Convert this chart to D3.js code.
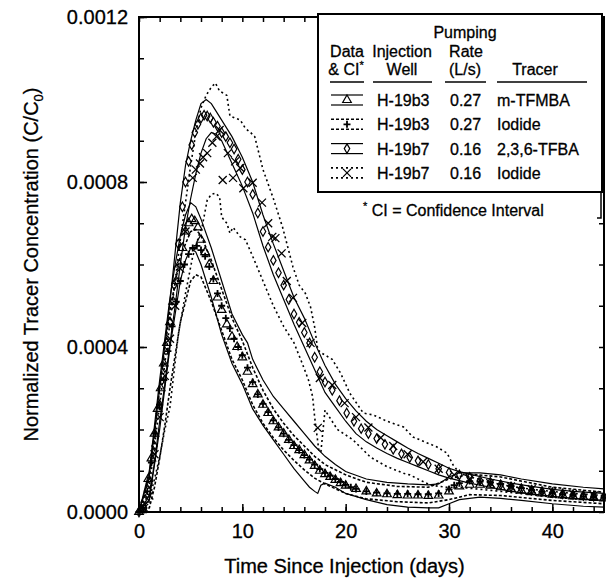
<!DOCTYPE html>
<html><head><meta charset="utf-8">
<script src="https://cdn.jsdelivr.net/npm/d3@7"></script>
<style>body{margin:0;background:#fff}svg{display:block;font-family:"Liberation Sans",Arial,Helvetica,sans-serif}svg text{stroke:#000;stroke-width:0.3px}</style>
</head><body><svg id="c" width="606" height="583"></svg>
<script>
// ---------------- data (day, C/C0) ----------------
const tfmbaData = [[0,0],[0.3,0.05e-4],[0.6,0.3e-4],[0.9,0.8e-4],[1.2,1.3e-4],[1.5,1.9e-4],[1.8,2.5e-4],[2.1,3.0e-4],[2.4,3.6e-4],[2.7,4.1e-4],
 [3.0,4.6e-4],[3.3,5.1e-4],[3.6,5.6e-4],[3.9,6.0e-4],[4.2,6.4e-4],[4.5,6.8e-4],[4.8,7.0e-4],[5.1,7.1e-4],[5.4,7.05e-4],[5.7,6.9e-4],
 [6.0,6.6e-4],[6.4,6.3e-4],[6.8,6.0e-4],[7.2,5.6e-4],[7.6,5.2e-4],[8.0,4.9e-4],[8.5,4.55e-4],[9.0,4.25e-4],[9.5,4.0e-4],[10.0,3.75e-4],
 [10.5,3.4e-4],[11.0,3.1e-4],[11.5,2.85e-4],[12.0,2.6e-4],[12.5,2.4e-4],[13.0,2.2e-4],[13.5,2.05e-4],[14.0,1.9e-4],[14.5,1.75e-4],[15.0,1.6e-4],
 [15.5,1.5e-4],[16.0,1.38e-4],[16.5,1.25e-4],[17.0,1.12e-4],[17.5,1.0e-4],[18.0,0.92e-4],[18.5,0.85e-4],[19.0,0.78e-4],[19.5,0.7e-4],[20.0,0.64e-4],
 [21,0.56e-4],[22,0.5e-4],[23,0.45e-4],[24,0.43e-4],[25,0.41e-4],[26,0.4e-4],[27,0.4e-4],[28,0.39e-4],[29,0.4e-4],[30,0.5e-4],
 [31,0.62e-4],[32,0.66e-4],[33,0.66e-4],[34,0.64e-4],[35,0.6e-4],[36,0.56e-4],[37,0.52e-4],[38,0.48e-4],[39,0.45e-4],[40,0.42e-4],
 [41,0.4e-4],[42,0.38e-4],[43,0.36e-4],[44,0.34e-4],[45,0.33e-4]];
const tfmbaUpper = [[0,0],[1,1.0e-4],[2,3.2e-4],[3,5.2e-4],[3.5,6.0e-4],[4,6.7e-4],[4.5,7.2e-4],[5,7.5e-4],[5.5,7.4e-4],[6,7.1e-4],[7,6.4e-4],[8,5.6e-4],
 [9,4.8e-4],[10,4.3e-4],[10.5,4.1e-4],[11,3.7e-4],[12,3.2e-4],[13,2.8e-4],[14,2.5e-4],[15,2.2e-4],[16,1.9e-4],[17,1.6e-4],[18,1.35e-4],[19,1.15e-4],
 [20,0.98e-4],[22,0.8e-4],[24,0.72e-4],[26,0.68e-4],[28,0.66e-4],[29,0.68e-4],[30,0.85e-4],[31,0.95e-4],[33,0.95e-4],[35,0.9e-4],[37,0.8e-4],[40,0.68e-4],[43,0.6e-4],[45,0.56e-4]];
const tfmbaLower = [[0,0],[1,0.3e-4],[2,2.0e-4],[3,4.0e-4],[4,5.6e-4],[4.5,6.1e-4],[5,6.4e-4],[5.5,6.3e-4],[6,6.0e-4],[7,5.2e-4],[8,4.3e-4],[9,3.6e-4],
 [10,3.1e-4],[11,2.5e-4],[12,2.1e-4],[13,1.75e-4],[14,1.4e-4],[15,1.05e-4],[16,0.75e-4],[16.5,0.6e-4],[17,0.5e-4],[17.3,0.45e-4],[17.6,0.65e-4],[18,0.7e-4],
 [19,0.6e-4],[20,0.45e-4],[22,0.3e-4],[24,0.18e-4],[26,0.12e-4],[28,0.1e-4],[29,0.1e-4],[30,0.2e-4],[31,0.3e-4],[33,0.36e-4],[35,0.33e-4],[37,0.28e-4],[40,0.2e-4],[43,0.14e-4],[45,0.12e-4]];

const iodB3Data = [[0,0],[0.4,0.1e-4],[0.8,0.5e-4],[1.2,1.2e-4],[1.6,1.9e-4],[2.0,2.6e-4],[2.4,3.2e-4],[2.8,3.9e-4],[3.2,4.5e-4],[3.6,5.1e-4],
 [4.0,5.6e-4],[4.4,6.0e-4],[4.8,6.25e-4],[5.2,6.4e-4],[5.6,6.45e-4],[6.0,6.35e-4],[6.4,6.2e-4],[6.8,5.95e-4],[7.2,5.65e-4],[7.6,5.3e-4],
 [8.0,5.0e-4],[8.4,4.7e-4],[8.8,4.45e-4],[9.2,4.2e-4],[9.6,4.0e-4],[10.0,3.8e-4],[10.5,3.5e-4],[11,3.15e-4],[11.5,2.85e-4],[12,2.62e-4],
 [12.5,2.42e-4],[13,2.22e-4],[13.5,2.05e-4],[14,1.9e-4],[14.5,1.75e-4],[15,1.62e-4],[15.5,1.5e-4],[16,1.38e-4],[16.5,1.27e-4],[17,1.15e-4],
 [17.5,1.04e-4],[18,0.95e-4],[18.5,0.88e-4],[19,0.8e-4],[19.5,0.73e-4],[20,0.66e-4],[20.5,0.6e-4],[21,0.56e-4],[22,0.5e-4],[23,0.47e-4],
 [24,0.45e-4],[25,0.44e-4],[26,0.44e-4],[27,0.43e-4],[28,0.43e-4],[29,0.45e-4],[30,0.55e-4],[30.5,0.65e-4],[31,0.7e-4],[32,0.75e-4],
 [33,0.74e-4],[34,0.72e-4],[35,0.68e-4],[36,0.63e-4],[37,0.58e-4],[38,0.53e-4],[39,0.49e-4],[40,0.46e-4],[41,0.43e-4],[42,0.41e-4],
 [43,0.38e-4],[44,0.36e-4],[45,0.35e-4]];
const iodB3Upper = [[0,0],[1,0.8e-4],[2,3.0e-4],[3,4.9e-4],[4,6.2e-4],[5,6.8e-4],[5.5,6.85e-4],[6,6.7e-4],[7,6.1e-4],[8,5.4e-4],[9,4.7e-4],[10,4.15e-4],
 [11,3.5e-4],[12,2.95e-4],[13,2.5e-4],[14,2.15e-4],[15,1.85e-4],[16,1.6e-4],[17,1.35e-4],[18,1.15e-4],[20,0.9e-4],[22,0.72e-4],[25,0.62e-4],[28,0.6e-4],
 [30,0.8e-4],[32,0.92e-4],[35,0.85e-4],[40,0.6e-4],[45,0.48e-4]];
const iodB3Lower = [[0,0],[1,0.1e-4],[1.5,0.6e-4],[2,1.3e-4],[2.5,2.1e-4],[3,3.0e-4],[4,4.6e-4],[5,5.6e-4],[5.5,5.75e-4],[6,5.7e-4],[7,5.1e-4],[8,4.4e-4],
 [9,3.7e-4],[10,3.2e-4],[11,2.6e-4],[12,2.15e-4],[13,1.8e-4],[14,1.5e-4],[15,1.25e-4],[16,1.02e-4],[17,0.82e-4],[18,0.68e-4],[20,0.45e-4],[22,0.32e-4],
 [25,0.25e-4],[28,0.22e-4],[30,0.3e-4],[32,0.42e-4],[35,0.4e-4],[40,0.28e-4],[45,0.2e-4]];

const tfbaData = [[0,0],[0.5,0.1e-4],[1.0,0.7e-4],[1.5,1.6e-4],[2.0,2.6e-4],[2.5,3.5e-4],[3.0,4.6e-4],[3.4,5.5e-4],[3.8,6.5e-4],[4.2,7.4e-4],
 [4.5,8.0e-4],[4.8,8.5e-4],[5.1,8.9e-4],[5.4,9.2e-4],[5.7,9.4e-4],[6.0,9.55e-4],[6.3,9.62e-4],[6.6,9.6e-4],[6.9,9.55e-4],[7.2,9.45e-4],
 [7.6,9.35e-4],[8.0,9.2e-4],[8.4,9.1e-4],[8.8,8.95e-4],[9.2,8.8e-4],[9.6,8.55e-4],[10.0,8.3e-4],[10.5,8.0e-4],[11.0,7.7e-4],[11.5,7.25e-4],
 [12.0,6.8e-4],[12.5,6.42e-4],[13.0,6.1e-4],[13.5,5.8e-4],[14.0,5.5e-4],[14.5,5.15e-4],[15.0,4.8e-4],[15.5,4.6e-4],[16.0,4.35e-4],[16.5,4.1e-4],
 [17.0,3.75e-4],[17.5,3.4e-4],[18.0,3.15e-4],[18.7,2.95e-4],[19.4,2.7e-4],[20.1,2.4e-4],[20.8,2.2e-4],[21.5,2.02e-4],[22.2,1.9e-4],[23.0,1.78e-4],
 [23.8,1.64e-4],[24.6,1.52e-4],[25.4,1.41e-4],[26.2,1.32e-4],[27.0,1.24e-4],[28.0,1.15e-4],[29.0,1.05e-4],[30.0,0.96e-4],[31.0,0.9e-4],[32.0,0.84e-4],
 [33.0,0.76e-4],[34.0,0.72e-4],[35.0,0.66e-4],[36.0,0.61e-4],[37.0,0.57e-4],[38.0,0.53e-4],[39.0,0.5e-4],[40.0,0.47e-4],[41,0.44e-4],[42,0.42e-4],
 [43,0.4e-4],[44,0.38e-4],[45,0.37e-4]];
const tfbaUpper = [[0,0],[1,0.9e-4],[2,3.0e-4],[3,5.1e-4],[3.5,6.3e-4],[4,7.5e-4],[4.5,8.4e-4],[5,9.0e-4],[5.5,9.5e-4],[6,9.9e-4],[6.5,10.0e-4],
 [7,9.9e-4],[7.5,9.7e-4],[8,9.5e-4],[9,9.1e-4],[10,8.6e-4],[11,8.0e-4],[12,7.2e-4],[13,6.5e-4],[14,5.85e-4],[15,5.2e-4],[16,4.7e-4],[17,4.1e-4],
 [18,3.55e-4],[19,3.1e-4],[20,2.75e-4],[21,2.45e-4],[22,2.2e-4],[23,2.0e-4],[24,1.85e-4],[25,1.7e-4],[26,1.55e-4],[27,1.42e-4],[28,1.3e-4],
 [29,1.18e-4],[30,1.06e-4],[31,0.98e-4],[32,0.92e-4],[34,0.8e-4],[36,0.7e-4],[38,0.62e-4],[40,0.55e-4],[42,0.5e-4],[45,0.45e-4]];
const tfbaLower = [[0,0],[1,0.4e-4],[1.5,1.2e-4],[2,2.2e-4],[2.5,3.1e-4],[3,4.1e-4],[3.5,5.0e-4],[4,6.0e-4],[4.5,6.9e-4],[5,7.6e-4],[5.5,8.2e-4],
 [6,8.7e-4],[6.5,9.05e-4],[7,9.2e-4],[7.5,9.15e-4],[8,9.0e-4],[9,8.45e-4],[10,7.9e-4],[11,7.25e-4],[12,6.45e-4],[13,5.75e-4],[14,5.15e-4],
 [15,4.55e-4],[16,4.0e-4],[17,3.45e-4],[18,2.9e-4],[19,2.55e-4],[20,2.2e-4],[21,1.9e-4],[22,1.7e-4],[23,1.55e-4],[24,1.42e-4],[25,1.3e-4],
 [26,1.2e-4],[27,1.1e-4],[28,1.0e-4],[29,0.9e-4],[30,0.82e-4],[31,0.76e-4],[32,0.7e-4],[34,0.6e-4],[36,0.5e-4],[38,0.44e-4],[40,0.38e-4],[42,0.33e-4],[45,0.28e-4]];

const iodB7Data = [[0.5,0.1e-4],[1.0,0.4e-4],[1.5,1.4e-4],[2.0,2.3e-4],[2.5,3.3e-4],[3.0,4.2e-4],[3.5,5.0e-4],[4.0,5.9e-4],[4.5,6.8e-4],[5.2,8.1e-4],
 [5.5,8.3e-4],[5.9,8.45e-4],[6.2,8.6e-4],[6.6,8.7e-4],[7.1,8.95e-4],[7.5,9.1e-4],[7.8,9.26e-4],[8.1,8.05e-4],[8.6,8.7e-4],[9.1,8.1e-4],
 [9.3,8.5e-4],[9.8,8.34e-4],[10.1,7.85e-4],[11.0,7.98e-4],[11.9,7.5e-4],[12.5,7.0e-4],[12.9,6.67e-4],[13.2,6.64e-4],[13.8,6.27e-4],[14.3,5.6e-4],
 [14.9,5.19e-4],[15.8,4.58e-4],[16.6,4.1e-4],[17.3,2.04e-4],[17.5,3.25e-4],[18.7,3.08e-4],[19.9,2.64e-4],[21.0,2.3e-4],[22.2,2.05e-4],[23.4,1.8e-4],
 [24.6,1.6e-4],[26,1.4e-4],[27.5,1.22e-4],[29,1.05e-4],[30.5,0.9e-4],[32,0.8e-4],[34,0.7e-4],[36,0.62e-4],[38,0.55e-4],[40,0.5e-4],[42,0.44e-4],[44,0.4e-4]];
const iodB7Upper = [[0,0],[1,0.6e-4],[2,2.6e-4],[3,4.6e-4],[4,6.6e-4],[5,8.4e-4],[5.5,9.2e-4],[6,9.8e-4],[6.5,10.1e-4],[7,10.3e-4],[7.4,10.4e-4],
 [7.8,10.2e-4],[8.2,10.15e-4],[8.5,10.1e-4],[8.8,9.6e-4],[9.3,9.55e-4],[9.8,9.5e-4],[10.3,9.3e-4],[10.8,9.2e-4],[11.2,9.1e-4],[12,8.3e-4],
 [13,7.6e-4],[13.9,6.9e-4],[14.9,5.94e-4],[15.5,5.5e-4],[16.1,5.3e-4],[16.6,4.97e-4],[17.0,4.48e-4],[17.3,3.93e-4],[17.7,3.85e-4],[18.7,3.7e-4],
 [19.5,3.37e-4],[20.4,2.88e-4],[21.7,2.4e-4],[22.7,2.35e-4],[24,2.2e-4],[25.6,2.06e-4],[26.5,1.82e-4],[28.8,1.58e-4],[29.8,1.43e-4],[30.4,1.14e-4],
 [31,0.95e-4],[32,0.85e-4],[34,0.72e-4],[36,0.62e-4],[38,0.55e-4],[40,0.5e-4],[42,0.45e-4],[45,0.4e-4]];
const iodB7Lower = [[0,0],[1,0.3e-4],[1.5,0.8e-4],[2,1.33e-4],[2.5,2.0e-4],[3,2.55e-4],[3.3,3.2e-4],[3.8,4.3e-4],[4.5,5.3e-4],[5.2,6.2e-4],
 [5.8,6.7e-4],[6.1,6.9e-4],[6.6,7.56e-4],[7.0,7.7e-4],[7.4,7.73e-4],[7.8,7.64e-4],[8.0,7.15e-4],[8.5,7.0e-4],[8.8,6.76e-4],[9.1,6.9e-4],
 [9.8,6.67e-4],[10.3,6.6e-4],[11,6.2e-4],[12,5.6e-4],[13,5.0e-4],[14,4.5e-4],[15,4.1e-4],[15.8,3.6e-4],[16.4,3.2e-4],[16.8,2.8e-4],
 [17.0,2.3e-4],[17.2,1.9e-4],[17.4,1.5e-4],[17.6,1.45e-4],[18,2.47e-4],[19.2,2.0e-4],[20.7,1.75e-4],[22.4,1.33e-4],[24,1.1e-4],[25.6,0.94e-4],
 [26.2,0.9e-4],[28.2,0.65e-4],[29.8,0.6e-4],[31,0.6e-4],[33,0.55e-4],[35,0.5e-4],[38,0.42e-4],[40,0.36e-4],[42,0.32e-4],[45,0.28e-4]];

// axis ticks
const xMajorTicks = [0, 10, 20, 30, 40];
const xMinorTicks = [0,2,4,6,8,10,12,14,16,18,20,22,24,26,28,30,32,34,36,38,40,42,44];
const yMajorTicks = [0, 0.0004, 0.0008, 0.0012];
const yTickLabels = ["0.0000", "0.0004", "0.0008", "0.0012"];
const yMinorTicks = [0,0.0001,0.0002,0.0003,0.0004,0.0005,0.0006,0.0007,0.0008,0.0009,0.0010,0.0011,0.0012];

// legend rows
const legendWells = ["H-19b3", "H-19b3", "H-19b7", "H-19b7"];
const legendRates = ["0.27", "0.27", "0.16", "0.16"];
const legendTracers = ["m-TFMBA", "Iodide", "2,3,6-TFBA", "Iodide"];
const legendMarkers = ["triangle", "plus", "diamond", "x"];

// ---------------- drawing ----------------
const svg = d3.select("#c");
const L = 139, R = 604, T = 17, B = 512;
const x = d3.scaleLinear().domain([0, 45]).range([L, R]);
const y = d3.scaleLinear().domain([0, 0.0012]).range([B, T]);

const series = [
  {data: tfmbaData, upper: tfmbaUpper, lower: tfmbaLower, marker: "triangle", dash: null},
  {data: iodB3Data, upper: iodB3Upper, lower: iodB3Lower, marker: "plus", dash: "3,2"},
  {data: tfbaData, upper: tfbaUpper, lower: tfbaLower, marker: "diamond", dash: null},
  {data: iodB7Data, upper: iodB7Upper, lower: iodB7Lower, marker: "x", dash: "2,3"}
];

const line = d3.line().x(d => x(d[0])).y(d => y(d[1])).curve(d3.curveLinear);
const plot = svg.append("g");

function markerPath(type) {
  if (type === "triangle") return d3.symbol(d3.symbolTriangle, 32)();
  if (type === "diamond") return d3.symbol(d3.symbolDiamond, 26)();
  if (type === "plus") return "M-3.5,0H3.5M0,-3.5V3.5";
  return "M-4,-4L4,4M-4,4L4,-4";
}
function markerStyle(sel, type) {
  sel.attr("fill", "none").attr("stroke", "#000")
     .attr("stroke-width", type === "plus" ? 1.8 : (type === "x" ? 1.3 : 1.2));
}

series.forEach(s => {
  [s.upper, s.lower].forEach(ci => {
    plot.append("path").attr("d", line(ci)).attr("fill", "none")
      .attr("stroke", "#000").attr("stroke-width", s.dash ? 1.6 : 1.2)
      .attr("stroke-dasharray", s.dash);
  });
});
series.forEach(s => {
  plot.append("g").selectAll("path").data(s.data).join("path")
    .attr("transform", d => `translate(${x(d[0])},${y(d[1])})`)
    .attr("d", markerPath(s.marker))
    .call(markerStyle, s.marker);
});

// axes
const fs = 20;
const gx = svg.append("g").attr("transform", `translate(0,${B})`)
  .call(d3.axisBottom(x).tickValues(xMajorTicks).tickSize(-8).tickPadding(12).tickFormat(d3.format("d")));
const gxm = svg.append("g").attr("transform", `translate(0,${B})`)
  .call(d3.axisBottom(x).tickValues(xMinorTicks).tickSize(-5).tickFormat(""));
const gxt = svg.append("g").attr("transform", `translate(0,${T})`)
  .call(d3.axisTop(x).tickValues(xMinorTicks).tickSize(-5).tickFormat(""));
const gy = svg.append("g").attr("transform", `translate(${L},0)`)
  .call(d3.axisLeft(y).tickValues(yMajorTicks).tickSize(-8).tickPadding(11).tickFormat((d, i) => yTickLabels[i]));
const gym = svg.append("g").attr("transform", `translate(${L},0)`)
  .call(d3.axisLeft(y).tickValues(yMinorTicks).tickSize(-5).tickFormat(""));
const gyr = svg.append("g").attr("transform", `translate(${R},0)`)
  .call(d3.axisRight(y).tickValues(yMinorTicks).tickSize(-5).tickFormat(""));
[gx, gxm, gxt, gy, gym, gyr].forEach(g => {
  g.select(".domain").remove();
  g.selectAll(".tick line").attr("stroke", "#000").attr("stroke-width", 1.5);
  g.selectAll("text").attr("font-size", fs).attr("font-family", "Liberation Sans, Arial, sans-serif").attr("fill", "#000");
});

// frame
svg.append("rect").attr("x", L).attr("y", T).attr("width", R - L).attr("height", B - T)
  .attr("fill", "none").attr("stroke", "#000").attr("stroke-width", 2);

// axis titles
svg.append("text").attr("x", (L + R) / 2 - 27).attr("y", 573).attr("text-anchor", "middle")
  .attr("font-size", fs).text("Time Since Injection (days)");
const yl = svg.append("text").attr("transform", `translate(38,${(T + B) / 2}) rotate(-90)`)
  .attr("text-anchor", "middle").attr("font-size", fs);
yl.append("tspan").text("Normalized Tracer Concentration (C/C");
yl.append("tspan").attr("font-size", 13).attr("dy", 5).text("0");
yl.append("tspan").attr("dy", -5).text(")");

// legend
const lg = svg.append("g");
const lfs = 16;
lg.append("rect").attr("x", 318).attr("y", 14).attr("width", 284).attr("height", 178)
  .attr("fill", "#fff").attr("stroke", "#000").attr("stroke-width", 2);
lg.append("path").attr("d", "M601,192V218H597").attr("fill", "none").attr("stroke", "#000").attr("stroke-width", 1.5);
const hdr = [
  ["Pumping", 465, 38], ["Data", 347, 57], ["Injection", 402, 57], ["Rate", 466, 57],
  ["Well", 402, 75], ["(L/s)", 465, 75], ["Tracer", 535, 75]
];
hdr.forEach(h => lg.append("text").attr("x", h[1]).attr("y", h[2]).attr("text-anchor", "middle")
  .attr("font-size", lfs).text(h[0]));
const ci = lg.append("text").attr("x", 346).attr("y", 75).attr("text-anchor", "middle").attr("font-size", lfs);
ci.append("tspan").text("& CI");
ci.append("tspan").attr("font-size", 11).attr("dy", -6).text("*");
[[330, 364], [373, 432], [445, 486], [497, 587]].forEach(u =>
  lg.append("line").attr("x1", u[0]).attr("x2", u[1]).attr("y1", 82).attr("y2", 82)
    .attr("stroke", "#000").attr("stroke-width", 1.6));
legendWells.forEach((w, i) => {
  const cy = 100 + i * 24.3;
  const s = series[i];
  [-5, 5].forEach(off => lg.append("line").attr("x1", 331).attr("x2", 363)
    .attr("y1", cy + off).attr("y2", cy + off).attr("stroke", "#000")
    .attr("stroke-width", s.dash ? 1.6 : 1.2).attr("stroke-dasharray", s.dash));
  lg.append("path").attr("transform", `translate(347,${cy})`).attr("d", markerPath(legendMarkers[i]))
    .call(markerStyle, legendMarkers[i]);
  lg.append("text").attr("x", 377).attr("y", cy + 6).attr("font-size", lfs).text(w);
  lg.append("text").attr("x", 450).attr("y", cy + 6).attr("font-size", lfs).text(legendRates[i]);
  lg.append("text").attr("x", 497).attr("y", cy + 6).attr("font-size", lfs).text(legendTracers[i]);
});
const cit = lg.append("text").attr("x", 363).attr("y", 216).attr("font-size", lfs);
cit.append("tspan").attr("font-size", 11).attr("dy", -6).text("*");
cit.append("tspan").attr("dy", 6).text(" CI = Confidence Interval");
</script></body></html>
